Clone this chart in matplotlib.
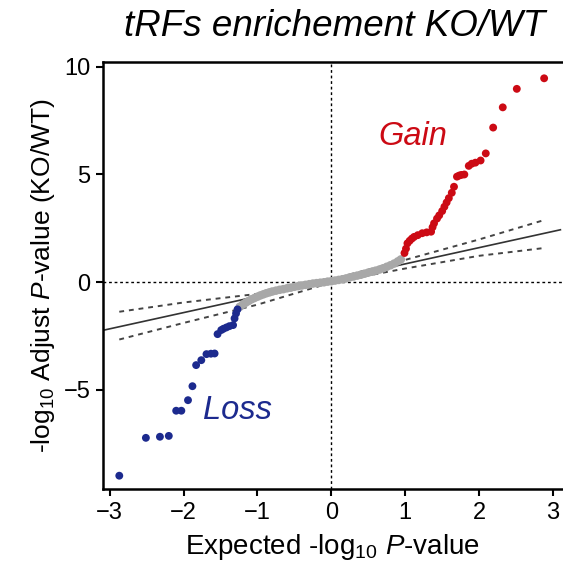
import matplotlib
matplotlib.use("Agg")
import matplotlib.pyplot as plt

plt.rcParams['font.family'] = ['Liberation Sans', 'DejaVu Sans']
plt.rcParams['mathtext.fontset'] = 'custom'
plt.rcParams['mathtext.rm'] = 'Liberation Sans'
plt.rcParams['mathtext.it'] = 'Liberation Sans:italic'

# -------------------------
# Data
# -------------------------
# grey (not significant) points
ns_x = [-1.24, -1.20, -1.16, -1.12, -1.08, -1.04, -1.00, -0.96, -0.92, -0.88,
        -0.84, -0.80, -0.75, -0.70, -0.65, -0.60, -0.55, -0.50, -0.45, -0.40,
        -0.35, -0.30, -0.25, -0.20, -0.15, -0.10, -0.05, 0.00, 0.05, 0.10,
        0.15, 0.20, 0.25, 0.30, 0.35, 0.40, 0.45, 0.50, 0.55, 0.60,
        0.65, 0.70, 0.75, 0.80, 0.85, 0.90, 0.94]
ns_y = [-1.15, -1.05, -0.96, -0.88, -0.80, -0.74, -0.68, -0.62, -0.57, -0.52,
        -0.48, -0.44, -0.40, -0.36, -0.33, -0.29, -0.26, -0.22, -0.19, -0.16,
        -0.13, -0.10, -0.07, -0.05, -0.03, -0.01, 0.02, 0.04, 0.07, 0.10,
        0.13, 0.17, 0.22, 0.26, 0.30, 0.34, 0.39, 0.44, 0.48, 0.53,
        0.58, 0.64, 0.71, 0.78, 0.86, 0.96, 1.05]

# red (gain) points
gain_x = [0.99, 1.01, 1.03, 1.06, 1.09, 1.12, 1.17, 1.23, 1.29, 1.35, 1.37,
          1.39, 1.43, 1.46, 1.50, 1.53, 1.56, 1.59, 1.63, 1.66, 1.70, 1.73,
          1.76, 1.80, 1.86, 1.90, 1.95, 2.02, 2.09, 2.19, 2.32, 2.51, 2.88]
gain_y = [1.35, 1.55, 1.80, 1.92, 2.02, 2.10, 2.18, 2.27, 2.31, 2.34, 2.55,
          2.73, 2.95, 3.10, 3.30, 3.50, 3.70, 3.90, 4.15, 4.43, 4.90, 4.95,
          4.98, 5.00, 5.40, 5.50, 5.55, 5.65, 5.98, 7.18, 8.12, 8.98, 9.47]

# blue (loss) points
loss_x = [-1.27, -1.29, -1.31, -1.33, -1.38, -1.42, -1.46, -1.49, -1.54, -1.58,
          -1.63, -1.69, -1.76, -1.83, -1.88, -1.94, -2.03, -2.10, -2.20, -2.32,
          -2.51, -2.87]
loss_y = [-1.27, -1.46, -1.69, -2.00, -2.05, -2.11, -2.17, -2.23, -2.42, -3.32,
          -3.33, -3.35, -3.63, -3.86, -4.84, -5.49, -5.98, -5.98, -7.15, -7.19,
          -7.24, -9.00]

# reference line and confidence envelope
ref_x = [-3.1, 3.1]
ref_y = [-2.25, 2.43]
band_x = [-2.87, -2.0, -1.0, 0.0, 1.0, 2.0, 2.85]
band_hi = [-1.38, -0.95, -0.55, 0.12, 1.03, 1.98, 2.85]
band_lo = [-2.67, -1.90, -1.05, -0.02, 0.63, 1.22, 1.57]

# -------------------------
# Plot
# -------------------------
fig = plt.figure(figsize=(5.63, 5.79), dpi=100)
ax = fig.add_axes([0.183, 0.155, 0.815, 0.738])

ax.axhline(0, color='black', ls=(0, (2, 2)), lw=1.0, zorder=1)
ax.axvline(0, color='black', ls=(0, (2, 2)), lw=1.0, zorder=1)

ax.plot(ref_x, ref_y, color='#333333', lw=1.2, zorder=2)
ax.plot(band_x, band_hi, color='#444444', lw=1.4, ls=(0, (2.5, 2.5)), zorder=2)
ax.plot(band_x, band_lo, color='#444444', lw=1.4, ls=(0, (2.5, 2.5)), zorder=2)

ax.scatter(ns_x, ns_y, s=38, color='#a8a8a8', edgecolors='none', zorder=3)
ax.scatter(gain_x, gain_y, s=32, color='#cc0a14', edgecolors='none', zorder=4)
ax.scatter(loss_x, loss_y, s=32, color='#1c2a8e', edgecolors='none', zorder=4)

ax.text(0.63, 6.35, 'Gain', color='#cc0a14', fontsize=23.5, style='italic')
ax.text(-1.74, -6.35, 'Loss', color='#1c2a8e', fontsize=23.5, style='italic')

ax.set_xlim(-3.09, 3.12)
ax.set_ylim(-9.63, 10.23)
ax.set_xticks([-3, -2, -1, 0, 1, 2, 3])
ax.set_yticks([-5, 0, 5, 10])
ax.tick_params(direction='out', length=5, width=1.5, labelsize=17, pad=4)

for side in ['left', 'bottom', 'top']:
    ax.spines[side].set_linewidth(1.8)
ax.spines['right'].set_visible(False)

ax.set_xlabel('Expected -log$_{10}$ $P$-value', fontsize=20, labelpad=6)
ax.set_ylabel('-log$_{10}$ Adjust $P$-value (KO/WT)', fontsize=19, labelpad=5)
fig.text(0.595, 0.955, 'tRFs enrichement KO/WT', fontsize=26.5, style='italic',
         ha='center', va='center')

fig.savefig('out.png', dpi=100)
